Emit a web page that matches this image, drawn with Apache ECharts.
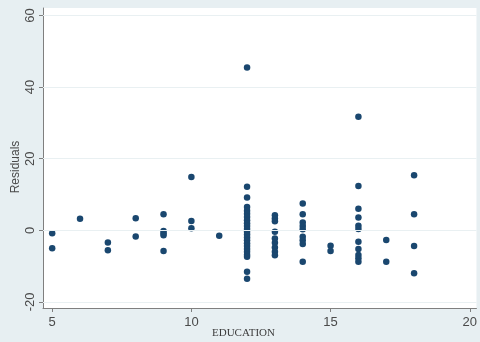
<!DOCTYPE html>
<html>
<head>
<meta charset="utf-8">
<script src="https://cdn.jsdelivr.net/npm/echarts@6/dist/echarts.min.js"></script>
<style>
  html, body { margin: 0; padding: 0; background: #e7eff2; }
  #chart { width: 480px; height: 342px; }
</style>
</head>
<body>
<div id="chart"></div>
<script>
const educationLevels = [5, 6, 7, 8, 9, 10, 11, 12, 13, 14, 15, 16, 17, 18];
const residualsByLevel = [
  [-0.8, -5.0],
  [3.2],
  [-3.4, -5.6],
  [3.4, -1.7],
  [4.5, -0.2, -0.8, -1.4, -5.8],
  [14.9, 2.6, 0.6],
  [-1.5],
  [45.5, 12.2, 9.2, 6.5, 5.5, 4.6, 3.7, 2.8, 2.0, 1.2, 0.4, -0.4, -1.2, -2.0, -2.8, -3.6, -4.4, -5.2, -6.0, -6.8, -7.4, -11.6, -13.5],
  [4.2, 3.3, 2.5, -0.4, -2.3, -3.5, -4.8, -6.0, -7.0],
  [7.5, 4.5, 2.2, 1.2, 0.3, -1.8, -2.8, -3.8, -8.8],
  [-4.3, -5.8],
  [31.7, 12.4, 6.0, 3.6, 1.3, 0.4, -3.2, -5.2, -6.9, -7.8, -8.8],
  [-2.7, -8.8],
  [15.4, 4.5, -4.4, -12.0]
];
const xTicks = [5, 10, 15, 20];
const yTicks = [-20, 0, 20, 40, 60];

const points = [];
educationLevels.forEach((lvl, i) => {
  residualsByLevel[i].forEach(r => points.push([lvl, r]));
});

const axisGray = '#7f7f7f';
const labelColor = '#4a4a4a';

const chart = echarts.init(document.getElementById('chart'), null, { renderer: 'canvas' });
chart.setOption({
  backgroundColor: '#e7eff2',
  animation: false,
  grid: {
    left: 43, top: 8, right: 0, bottom: 34,
    show: true, backgroundColor: '#ffffff', borderWidth: 0
  },
  xAxis: {
    type: 'value',
    min: 4.67, max: 20.24,
    axisLine: { show: true, onZero: false, lineStyle: { color: axisGray, width: 1 } },
    axisTick: { show: true, length: 4, customValues: xTicks, lineStyle: { color: axisGray } },
    axisLabel: { customValues: xTicks, color: labelColor, fontSize: 13, margin: 8, fontFamily: 'Liberation Sans, Arial, sans-serif' },
    splitLine: { show: false }
  },
  yAxis: {
    type: 'value',
    min: -21.7, max: 62.1,
    axisLine: { show: true, onZero: false, lineStyle: { color: axisGray, width: 1 } },
    axisTick: { show: true, length: 4, customValues: yTicks, lineStyle: { color: axisGray } },
    axisLabel: { customValues: yTicks, rotate: 90, color: labelColor, fontSize: 13, margin: 6, fontFamily: 'Liberation Sans, Arial, sans-serif' },
    splitLine: { show: false }
  },
  graphic: [
    {
      type: 'text', left: 212, top: 328,
      style: { text: 'EDUCATION', fill: '#3c3c3c', font: '11px "Liberation Serif", "Times New Roman", serif' }
    },
    {
      type: 'text', x: 10, y: 167, rotation: Math.PI / 2,
      style: { text: 'Residuals', fill: '#4a4a4a', font: '12px "Liberation Sans", Arial, sans-serif', align: 'center', verticalAlign: 'top' }
    }
  ],
  series: [{
    type: 'scatter',
    data: points,
    symbol: 'circle',
    symbolSize: 6.5,
    itemStyle: { color: '#1a476f', opacity: 1 },
    markLine: {
      silent: true,
      symbol: 'none',
      label: { show: false },
      lineStyle: { color: '#e9f0f2', width: 1, type: 'solid' },
      data: yTicks.map(v => ({ yAxis: v }))
    },
    z: 3
  }]
});
</script>
</body>
</html>
